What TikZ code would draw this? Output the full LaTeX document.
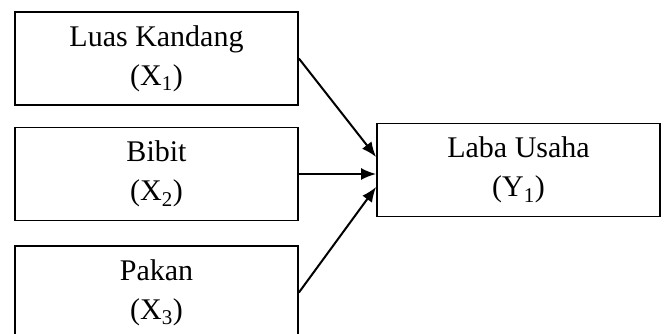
\documentclass[tikz,border=0pt]{standalone}
\usepackage{fontspec}
\setmainfont{Liberation Serif}
\usetikzlibrary{positioning, arrows.meta}

\tikzset{
  kotak/.style={draw, line width=1.8pt, minimum width=283pt, minimum height=93pt,
    align=center, inner sep=0pt, font=\fontsize{30}{39}\selectfont},
  panah/.style={-{Latex[length=15pt,width=12pt]}, line width=2pt}
}

\begin{document}
\begin{tikzpicture}[x=1pt,y=1pt,node distance=2cm,on grid]
   \useasboundingbox (0,0) rectangle (664,334);
   \node[kotak] (x1) at (156.5,275.5) {Luas Kandang\\(X\textsubscript{1})};
   \node[kotak] (x2) [below=115.5pt of x1] {Bibit\\(X\textsubscript{2})};
   \node[kotak] (x3) [below=118.5pt of x2] {Pakan\\(X\textsubscript{3})};
   \node[kotak] (y1) [right=362pt of x2, yshift=4pt] {Laba Usaha\\(Y\textsubscript{1})};
    \draw[panah] (x1.east) -- ([yshift=13pt]y1.west);
    \draw[panah] (x2.east) -- ([yshift=-4pt]y1.west);
    \draw[panah] (x3.east) -- ([yshift=-17pt]y1.west);
\end{tikzpicture}
\end{document}
